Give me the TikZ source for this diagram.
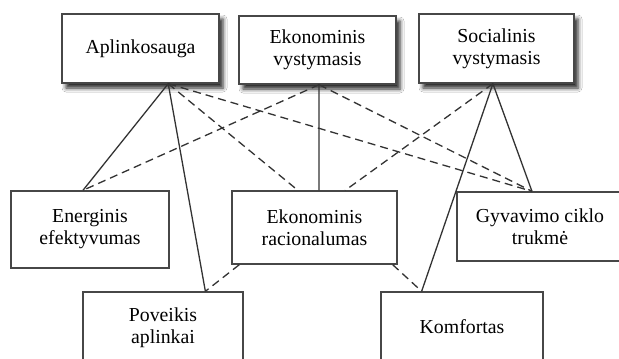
\documentclass[tikz,border=0pt]{standalone}
\usepackage{fontspec}
\setmainfont{Liberation Serif}
\usetikzlibrary{calc,shadows.blur}

\definecolor{boxline}{HTML}{474747}
\definecolor{linkline}{HTML}{333333}

\tikzset{
  box/.style={draw=boxline, line width=1.4pt, fill=white, inner sep=0pt,
    align=center, font=\fontsize{19.8pt}{22pt}\selectfont},
  topbox/.style={box, blur shadow={shadow xshift=4pt, shadow yshift=-5pt,
    shadow blur radius=4pt, shadow opacity=85}},
  solidlink/.style={draw=linkline, line width=1.3pt},
  dashlink/.style={draw=linkline, line width=1.3pt, dash pattern=on 8pt off 5pt}
}

\begin{document}
\begin{tikzpicture}[x=1pt,y=-1pt]
  \useasboundingbox (0,0) rectangle (619,359);
  \fill[white] (0,0) rectangle (619,359);
  \clip (0,0) rectangle (619,359);

  % upper row: the three dimensions
  \node[topbox, minimum width=157pt, minimum height=69pt] (apl) at (140.5,48.5) {Aplinkosauga};
  \node[topbox, minimum width=157pt, minimum height=68pt] (ekv) at (317.5,50) {Ekonominis\\vystymasis};
  \node[topbox, minimum width=155pt, minimum height=69pt] (soc) at (496.5,48.5) {Socialinis\\vystymasis};

  % middle row
  \node[box, minimum width=158pt, minimum height=77pt] (ene) at (90,229.5) {Energinis\\efektyvumas};
  \node[box, minimum width=165pt, minimum height=73pt] (ekr) at (314.5,227.5) {Ekonominis\\racionalumas};
  \node[box, minimum width=166pt, minimum height=69pt] (gyv) at (540,226.5) {Gyvavimo ciklo\\trukmė};

  % lower row
  \node[box, minimum width=160pt, minimum height=72pt] (pov) at (163,328) {Poveikis\\aplinkai};
  \node[box, minimum width=162pt, minimum height=70pt] (kom) at (462,327) {Komfortas};

  % attachment points on the box edges
  \coordinate (aplB) at ($(apl.south west)!0.675!(apl.south east)$);
  \coordinate (ekvB) at ($(ekv.south west)!0.51!(ekv.south east)$);
  \coordinate (socB) at ($(soc.south west)!0.477!(soc.south east)$);
  \coordinate (eneT) at ($(ene.north west)!0.456!(ene.north east)$);
  \coordinate (ekrTl) at ($(ekr.north west)!0.40!(ekr.north east)$);
  \coordinate (ekrTm) at ($(ekr.north west)!0.527!(ekr.north east)$);
  \coordinate (ekrTr) at ($(ekr.north west)!0.685!(ekr.north east)$);
  \coordinate (ekrBl) at ($(ekr.south west)!0.048!(ekr.south east)$);
  \coordinate (ekrBr) at ($(ekr.south west)!0.97!(ekr.south east)$);
  \coordinate (gyvT) at ($(gyv.north west)!0.452!(gyv.north east)$);
  \coordinate (povT) at ($(pov.north west)!0.7625!(pov.north east)$);
  \coordinate (komT) at ($(kom.north west)!0.253!(kom.north east)$);

  % strong links
  \draw[solidlink] (aplB) -- (eneT);
  \draw[solidlink] (aplB) -- (povT);
  \draw[solidlink] (ekvB) -- (ekrTm);
  \draw[solidlink] (socB) -- (gyvT);
  \draw[solidlink] (socB) -- (komT);

  % weak links
  \draw[dashlink] (aplB) -- (ekrTl);
  \draw[dashlink] (aplB) -- (gyvT);
  \draw[dashlink] (ekvB) -- (eneT);
  \draw[dashlink] (ekvB) -- (gyvT);
  \draw[dashlink] (socB) -- (ekrTr);
  \draw[dashlink] (ekrBl) -- (povT);
  \draw[dashlink] (ekrBr) -- (komT);
\end{tikzpicture}
\end{document}
